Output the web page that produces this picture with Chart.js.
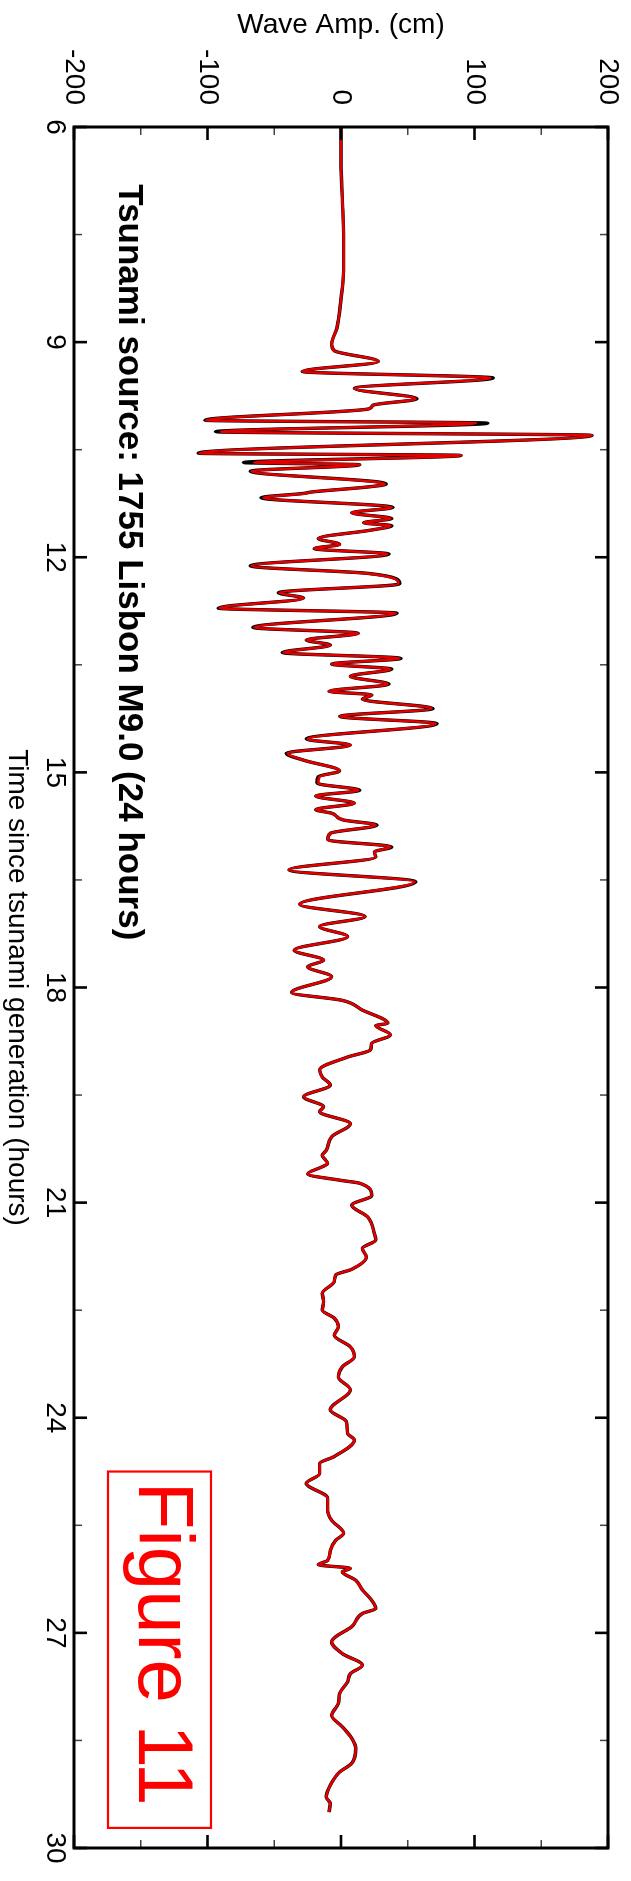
<!DOCTYPE html>
<html>
<head>
<meta charset="utf-8">
<script src="https://cdn.jsdelivr.net/npm/chart.js@4.4.1/dist/chart.umd.min.js"></script>
<style>
html,body{margin:0;padding:0;background:#fff;overflow:hidden;width:631px;height:1881px;}
#wrap{position:absolute;left:0;top:0;width:1881px;height:631px;transform-origin:0 0;transform:translate(631px,0) rotate(90deg);}
canvas{display:block;}
</style>
</head>
<body>
<div id="wrap"><canvas id="c" width="1881" height="631"></canvas></div>
<script>
// ---- Data ----
const hours = [
  6.00, 6.50, 7.00, 7.50, 8.00, 8.40, 8.80, 9.03, 9.12, 9.27,
  9.41, 9.50, 9.645, 9.79, 9.88, 9.93, 10.09, 10.13, 10.25, 10.30,
  10.55, 10.58, 10.68, 10.71, 10.80, 10.95, 10.98, 11.02, 11.09, 11.11,
  11.17, 11.305, 11.38, 11.46, 11.52, 11.56, 11.62, 11.74, 11.82, 11.88,
  11.955, 12.12, 12.225, 12.37, 12.495, 12.57, 12.71, 12.78, 12.98, 13.06,
  13.155, 13.225, 13.33, 13.41, 13.49, 13.56, 13.66, 13.77, 13.87, 13.92,
  13.98, 14.11, 14.22, 14.32, 14.535, 14.62, 14.735, 14.83, 14.98, 15.06,
  15.15, 15.25, 15.33, 15.43, 15.52, 15.57, 15.665, 15.735, 15.85, 15.94,
  16.04, 16.11, 16.18, 16.36, 16.525, 16.84, 17.01, 17.15, 17.29, 17.48,
  17.62, 17.71, 17.85, 18.07, 18.18, 18.315, 18.50, 18.53, 18.66, 18.78,
  18.87, 18.97, 19.15, 19.25, 19.36, 19.525, 19.665, 19.73, 19.90, 20.08,
  20.27, 20.34, 20.455, 20.50, 20.60, 20.69, 20.73, 20.90, 21.035, 21.20,
  21.43, 21.52, 21.64, 21.76, 21.93, 22.01, 22.10, 22.265, 22.38, 22.50,
  22.61, 22.73, 22.85, 23.01, 23.15, 23.29, 23.43, 23.61, 23.89, 24.055,
  24.22, 24.31, 24.54, 24.64, 24.78, 24.915, 25.12, 25.29, 25.43, 25.61,
  25.71, 25.85, 25.99, 26.05, 26.10, 26.15, 26.265, 26.40, 26.545, 26.66,
  26.73, 26.915, 27.055, 27.125, 27.29, 27.45, 27.57, 27.68, 27.845, 27.985,
  28.15, 28.31, 28.47, 28.61, 28.82, 28.94, 29.125, 29.29, 29.38, 29.50
];
// Modelled wave amplitude (red), cm
const modelAmp = [
  0, 0, 1, 2, 2, 0, -3, -7, -5, 28,
  -29, 112, 10, 56, 24, 21, -101, 101, -90, 188,
  -106, 90, -65, 14, -67, 26, 33, 20, -22, -27,
  -58, 38, 8, 37, 17, 37, 23, -17, -1, -20,
  35, -67, 19, 43, -46, -28, -91, 41, -65, 13,
  -26, -8, -43, 44, -7, 37, 7, 35, -9, 23,
  16, 68, -1, 71, -25, 7, -40, -28, -1, -16,
  -17, 13, -19, 10, -19, -7, 2, 26, -8, -10,
  37, 25, 26, -39, 55, -31, 18, -16, 5, -35,
  -13, -25, -7, -37, 1, 16, 35, 26, 37, 23,
  22, 5, -16, -14, -8, -28, -13, -16, 7, -7,
  -11, -14, -10, -14, -25, 0, 14, 23, 8, 20,
  25, 26, 16, 19, 8, -4, -5, -14, -13, -14,
  -5, -2, -5, 7, 10, 1, -2, 7, -8, 4,
  5, 10, -5, -16, -16, -26, -10, -10, -7, 2,
  -4, -8, -10, -17, 7, 1, 11, 16, 23, 26,
  16, 8, -4, -7, 1, 16, 7, 5, -1, -2,
  -7, 1, 8, 11, 8, -1, -8, -11, -8, -9
];
// Observed wave amplitude (black), cm
const obsAmp = [
  0, 0, 1, 2, 2, 0, -3, -7, -5, 28,
  -29, 114, 10, 57, 24, 21, -102, 110, -94, 188,
  -107, 90, -73, 14, -68, 28, 34, 20, -22, -28,
  -60, 39, 8, 38, 17, 38, 23, -17, -1, -20,
  36, -68, 20, 44, -47, -28, -92, 42, -66, 13,
  -26, -8, -44, 45, -7, 38, 7, 36, -9, 23,
  16, 69, -1, 72, -26, 7, -41, -28, -1, -17,
  -18, 14, -19, 10, -19, -7, 2, 27, -8, -10,
  38, 25, 26, -39, 56, -31, 18, -16, 5, -35,
  -13, -25, -7, -37, 1, 16, 35, 26, 37, 23,
  22, 5, -16, -14, -8, -28, -13, -16, 7, -7,
  -11, -14, -10, -14, -25, 0, 14, 23, 8, 20,
  25, 26, 16, 19, 8, -4, -5, -14, -13, -14,
  -5, -2, -5, 7, 10, 1, -2, 7, -8, 4,
  5, 10, -5, -16, -16, -26, -10, -10, -7, 2,
  -4, -8, -10, -17, 7, 1, 11, 16, 23, 26,
  16, 8, -4, -7, 1, 16, 7, 5, -1, -2,
  -7, 1, 8, 11, 8, -1, -8, -11, -8, -9
];
const timeTicks = [6, 9, 12, 15, 18, 21, 24, 27, 30];
const timeMinorTicks = [7.5, 10.5, 13.5, 16.5, 19.5, 22.5, 25.5, 28.5];
const ampTicks = [-200, -100, 0, 100, 200];
const ampMinorTicks = [-150, -50, 50, 150];
const titleText = 'Tsunami source: 1755 Lisbon M9.0 (24 hours)';
const figureText = 'Figure 11';

const FONT = "'Liberation Sans', Arial, Helvetica, sans-serif";

const toPts = (arr) => hours.map((t, i) => ({x: t, y: arr[i]}));

const framePlugin = {
  id: 'frame',
  afterDraw(chart) {
    const {ctx, chartArea: a, scales: {x, y}} = chart;
    ctx.save();
    const line = (x1, y1, x2, y2, w, c) => {
      ctx.beginPath(); ctx.lineWidth = w; ctx.strokeStyle = c;
      ctx.moveTo(x1, y1); ctx.lineTo(x2, y2); ctx.stroke();
    };
    // major / minor ticks pointing inward on all four sides
    timeTicks.forEach(v => {
      const p = x.getPixelForValue(v);
      line(p, a.bottom, p, a.bottom - 13, 2.6, '#000');
      line(p, a.top, p, a.top + 13, 2.6, '#000');
    });
    timeMinorTicks.forEach(v => {
      const p = x.getPixelForValue(v);
      line(p, a.bottom, p, a.bottom - 8, 1.5, '#444');
      line(p, a.top, p, a.top + 8, 1.5, '#444');
    });
    ampTicks.forEach(v => {
      const p = y.getPixelForValue(v);
      line(a.left, p, a.left + 13, p, 2.6, '#000');
      line(a.right, p, a.right - 13, p, 2.6, '#000');
    });
    ampMinorTicks.forEach(v => {
      const p = y.getPixelForValue(v);
      line(a.left, p, a.left + 8, p, 1.5, '#444');
      line(a.right, p, a.right - 8, p, 1.5, '#444');
    });
    // frame
    ctx.lineWidth = 3; ctx.strokeStyle = '#000';
    ctx.strokeRect(a.left, a.top, a.right - a.left, a.bottom - a.top);

    // title inside the plot
    ctx.fillStyle = '#000';
    ctx.font = "bold 35px " + FONT;
    ctx.textAlign = 'left';
    ctx.textBaseline = 'alphabetic';
    ctx.fillText(titleText, x.getPixelForValue(6.8), 512);

    // "Figure 11" box
    const bx1 = x.getPixelForValue(24.75), bx2 = x.getPixelForValue(29.72);
    ctx.strokeStyle = '#ff0000'; ctx.lineWidth = 2.2;
    ctx.strokeRect(bx1, 420, bx2 - bx1, 103);
    ctx.fillStyle = '#ff0000';
    ctx.font = "78px " + FONT;
    ctx.textAlign = 'center';
    ctx.fillText(figureText, (bx1 + bx2) / 2 - 6, 492);
    ctx.restore();
  }
};

new Chart(document.getElementById('c'), {
  type: 'line',
  data: {
    datasets: [
      {label: 'Model', data: toPts(modelAmp), borderColor: '#e00000', borderWidth: 2.6,
       pointRadius: 0, cubicInterpolationMode: 'monotone', fill: false, order: 0},
      {label: 'Observed', data: toPts(obsAmp), borderColor: '#000000', borderWidth: 3.4,
       pointRadius: 0, cubicInterpolationMode: 'monotone', fill: false, order: 1}
    ]
  },
  options: {
    responsive: false,
    animation: false,
    devicePixelRatio: 1,
    layout: {padding: {left: 0, right: 33, top: 23, bottom: 0}},
    plugins: {legend: {display: false}, tooltip: {enabled: false}, title: {display: false}},
    scales: {
      x: {
        type: 'linear', position: 'bottom', min: 6, max: 30,
        afterBuildTicks: s => { s.ticks = timeTicks.map(v => ({value: v})); },
        grid: {display: false, drawTicks: false},
        border: {display: false},
        ticks: {font: {family: FONT, size: 28}, color: '#000', padding: 2, maxRotation: 0, autoSkip: false},
        title: {display: true, text: 'Time since tsunami generation (hours)', color: '#000',
                font: {family: FONT, size: 28}, padding: {top: 0, bottom: 0}},
        afterFit: s => { s.height = 74; s.paddingLeft = 0; s.paddingRight = 0; }
      },
      y: {
        type: 'linear', position: 'left', min: -200, max: 200,
        afterBuildTicks: s => { s.ticks = ampTicks.map(v => ({value: v})); },
        grid: {display: false, drawTicks: false},
        border: {display: false},
        ticks: {font: {family: FONT, size: 28}, color: '#000', padding: 22, autoSkip: false},
        title: {display: true, text: 'Wave Amp. (cm)', color: '#000',
                font: {family: FONT, size: 28}, padding: {top: 8, bottom: 0}},
        afterFit: s => { s.width = 127; s.paddingTop = 0; s.paddingBottom = 0; }
      }
    }
  },
  plugins: [framePlugin]
});
</script>
</body>
</html>
